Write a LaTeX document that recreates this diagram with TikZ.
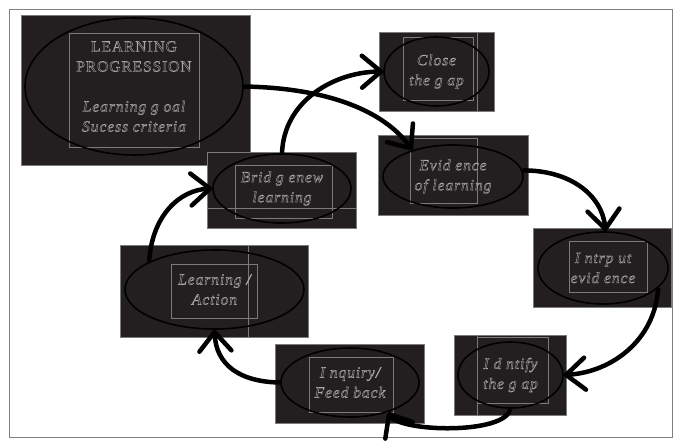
\documentclass[tikz,border=0pt]{standalone}
\usepackage{fontspec}
\setmainfont{Liberation Serif}
\usetikzlibrary{shapes.geometric,arrows.meta}
\definecolor{boxdark}{HTML}{231F20}
\definecolor{thin}{HTML}{7A7A7A}
\definecolor{txt}{HTML}{A8A8A8}
\tikzset{
  darkbox/.style={fill=boxdark,draw=thin,line width=0.4pt},
  innerline/.style={draw=thin,line width=0.4pt},
  oval/.style={ellipse,draw=black,line width=1.6pt,inner sep=0pt,align=center,
    text=txt,font=\fontsize{15.5}{20}\selectfont\addfontfeature{LetterSpace=6}\itshape,
    execute at begin node={\special{pdf:literal direct 1 Tr 0.4 w}},
    execute at end node={\special{pdf:literal direct 0 Tr}}},
  flow/.style={line width=4.5pt,black,-{Straight Barb[length=19pt,width=32pt,line width=4.5pt,round]}}
}
\begin{document}
\begin{tikzpicture}[x=1pt,y=-1pt]
\useasboundingbox (0,0) rectangle (679,442);
\fill[white] (0,0) rectangle (679,442);
\draw[gray,line width=0.8pt] (9,9) rectangle (672,437);
% boxes
\path[darkbox] (21,15) rectangle (250,165);
\path[innerline] (69,33) rectangle (199,147);
\path[darkbox] (379,32) rectangle (494,111);
\path[innerline] (403,37) rectangle (473,100);
\path[innerline] (477,32) -- (477,111);
\path[darkbox] (207,152) rectangle (356,228);
\path[innerline] (235,165) rectangle (332,218);
\path[innerline] (207,208) -- (356,208);
\path[darkbox] (378,135) rectangle (528,215);
\path[innerline] (410,138) rectangle (477,203);
\path[darkbox] (533,228) rectangle (671,307);
\path[innerline] (569,241) rectangle (647,292);
\path[darkbox] (120,245) rectangle (308,337);
\path[innerline] (171,264) rectangle (257,318);
\path[innerline] (248,245) -- (248,337);
\path[darkbox] (275,344) rectangle (424,423);
\path[innerline] (309,357) rectangle (393,412);
\path[darkbox] (454,335) rectangle (566,415);
\path[innerline] (477,337) rectangle (548,403);
\path[innerline] (477,335) -- (477,415);
% ovals
\node[oval,minimum width=218pt,minimum height=137pt] (lp) at (134,86.5)
  {\upshape LEARNING\\\upshape PROGRESSION\\[20pt]Learning g oal\\Sucess criteria};
\node[oval,minimum width=105pt,minimum height=69pt] (cl) at (436.5,71.5) {Close\\the g ap};
\node[oval,minimum width=138pt,minimum height=69pt] (br) at (282,188.5) {Brid g enew\\learning};
\node[oval,minimum width=140pt,minimum height=63pt] (ev) at (453,176.5) {Evid ence\\of learning};
\node[oval,minimum width=130pt,minimum height=72pt] (in) at (603,268) {I ntrp ut\\evid ence};
\node[oval,minimum width=179pt,minimum height=79pt] (la) at (214.5,289.5) {Learning /\\Action};
\node[oval,minimum width=138pt,minimum height=69pt] (iq) at (350,382.5) {I nquiry/\\Feed back};
\node[oval,minimum width=105pt,minimum height=66pt] (id) at (510.5,375) {I d ntify\\the g ap};
% arrows
\draw[flow] (lp.east) .. controls (330,88) and (385,112) .. (ev.147);
\draw[flow] (ev.5) .. controls (570,170) and (602,195) .. (in.86);
\draw[flow] (in.-20) .. controls (655,340) and (612,372) .. (id.east);
\draw[flow] (id.south) .. controls (505,435) and (400,432) .. (iq.-38);
\draw[flow] (iq.west) .. controls (240,382) and (216,365) .. (la.south);
\draw[flow] (la.157) .. controls (152,215) and (180,190) .. (br.west);
\draw[flow] (br.north) .. controls (284,100) and (335,72) .. (cl.west);
\end{tikzpicture}
\end{document}
